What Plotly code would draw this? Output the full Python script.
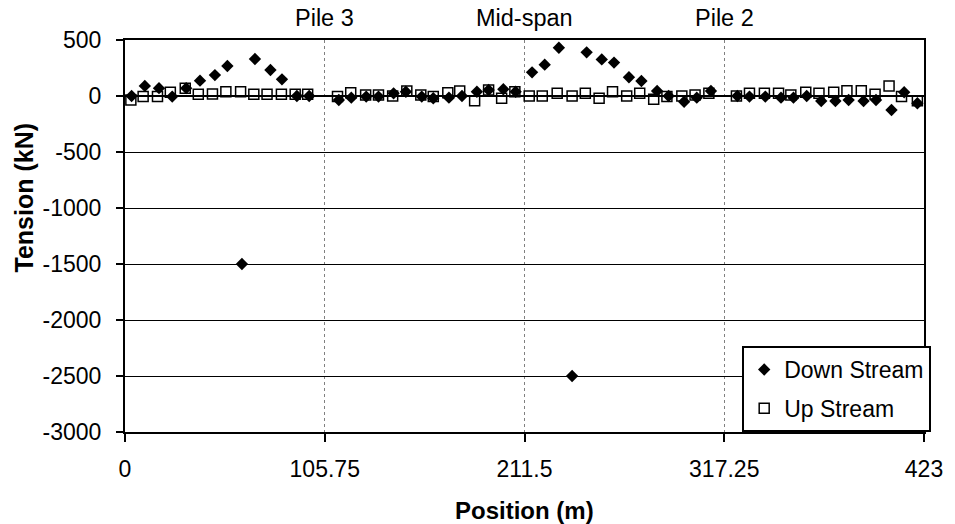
import plotly.graph_objects as go

# ---- data ----
down_x = [3.5, 10.5, 18.0, 25.0, 32.4, 39.7, 47.6, 54.2, 61.9, 68.8, 77.0, 83.1, 91.0, 97.5,
          113.2, 119.8, 127.7, 134.2, 142.2, 148.7, 157.1, 163.2, 171.5, 178.4, 186.3, 192.5,
          200.3, 206.8, 215.5, 222.2, 229.7, 236.7, 244.4, 252.4, 258.9, 266.8, 273.4, 281.7,
          287.8, 296.0, 302.7, 310.2, 324.2, 330.6, 339.0, 347.3, 353.9, 360.9, 368.6, 376.1,
          383.1, 391.0, 397.6, 405.8, 412.5, 419.5]
down_y = [0, 90, 70, -5, 70, 137, 187, 268, -1500, 330, 232, 149, 0, 0,
          -36, -15, -5, -5, 24, 38, -5, -20, -15, 0, 38, 54,
          60, 38, 211, 280, 431, -2500, 390, 327, 298, 167, 134, 45,
          0, -51, -15, 45, 0, -5, -5, -15, -15, 0, -45, -45,
          -36, -45, -36, -125, 33, -65]

up_x = [3.1, 9.6, 17.2, 24.0, 31.9, 38.8, 46.3, 53.4, 61.2, 68.2, 75.2, 82.8, 90.1, 96.7,
        112.5, 119.5, 127.4, 134.2, 141.7, 149.2, 156.6, 163.2, 170.9, 177.2, 185.1, 192.5,
        199.4, 206.4, 214.0, 220.9, 228.8, 236.7, 243.7, 251.0, 258.1, 265.6, 272.5, 279.9,
        286.9, 294.8, 301.8, 309.1, 323.7, 330.6, 338.5, 346.0, 352.5, 360.4, 367.4, 375.2,
        382.2, 389.8, 397.1, 404.5, 411.1, 419.5]
up_y = [-35, -5, -5, 33, 69, 15, 18, 38, 38, 15, 15, 15, 15, 15,
        -5, 30, 8, 8, 0, 45, 8, -5, 30, 45, -42, 54,
        -20, 38, 0, 0, 24, 0, 24, -20, 38, 0, 24, -30,
        -5, 0, 8, 24, 0, 24, 24, 24, 8, 33, 24, 33,
        47, 47, 15, 89, -5, -42]

x_ticks = [0, 105.75, 211.5, 317.25, 423]
x_tick_text = ["0", "105.75", "211.5", "317.25", "423"]
y_ticks = [500, 0, -500, -1000, -1500, -2000, -2500, -3000]
y_tick_text = ["500", "0", "-500", "-1000", "-1500", "-2000", "-2500", "-3000"]
marker_labels = ["Pile 3", "Mid-span", "Pile 2"]
marker_pos = [105.75, 211.5, 317.25]

FONT = "Liberation Sans, Arial, sans-serif"

fig = go.Figure()
fig.add_trace(go.Scatter(
    x=down_x, y=down_y, mode="markers", name="Down Stream", legendgroup="a",
    marker=dict(symbol="diamond", size=9.5, color="black", line=dict(width=0)),
))
fig.add_trace(go.Scatter(
    x=up_x, y=up_y, mode="markers", name="Up Stream", legendgroup="b",
    marker=dict(symbol="square-open", size=10, color="black", line=dict(width=1.5, color="black")),
))

annotations = []
for lab, pos in zip(marker_labels, marker_pos):
    annotations.append(dict(x=pos, xref="x", y=1.056, yref="paper", text=lab, showarrow=False,
                            xanchor="center", yanchor="middle", font=dict(size=23.5, color="black")))
annotations.append(dict(x=0.5, xref="paper", y=-0.199, yref="paper", text="<b>Position (m)</b>",
                        showarrow=False, xanchor="center", yanchor="middle",
                        font=dict(size=24, color="black")))
annotations.append(dict(x=-0.127, xref="paper", y=0.597, yref="paper", text="<b>Tension (kN)</b>",
                        showarrow=False, xanchor="center", yanchor="middle", textangle=-90,
                        font=dict(size=25, color="black")))

fig.update_layout(
    width=955, height=524,
    margin=dict(l=125, r=24, t=40, b=92),
    paper_bgcolor="white", plot_bgcolor="white",
    font=dict(family=FONT, size=23, color="black"),
    showlegend=True,
    legend=dict(x=1.009, xanchor="right", y=0, yanchor="bottom",
                bgcolor="white", bordercolor="black", borderwidth=2,
                tracegroupgap=6, itemwidth=30,
                font=dict(size=23, color="black"), itemsizing="trace"),
    annotations=annotations,
    xaxis=dict(range=[0, 423], tickmode="array", tickvals=x_ticks, ticktext=x_tick_text,
               showgrid=True, gridcolor="#808080", griddash="dot", gridwidth=1,
               showline=True, linecolor="black", linewidth=2, mirror=True,
               ticks="outside", ticklen=8, tickcolor="black", tickwidth=1.5,
               ticklabelstandoff=7, zeroline=False),
    yaxis=dict(range=[-3000, 500], tickmode="array", tickvals=y_ticks, ticktext=y_tick_text,
               showgrid=True, gridcolor="black", gridwidth=1,
               showline=True, linecolor="black", linewidth=2, mirror=True,
               ticks="outside", ticklen=7, tickcolor="black", tickwidth=1.5,
               ticklabelstandoff=10, zeroline=True, zerolinecolor="black", zerolinewidth=1.5),
)

fig.write_html("out.html")
